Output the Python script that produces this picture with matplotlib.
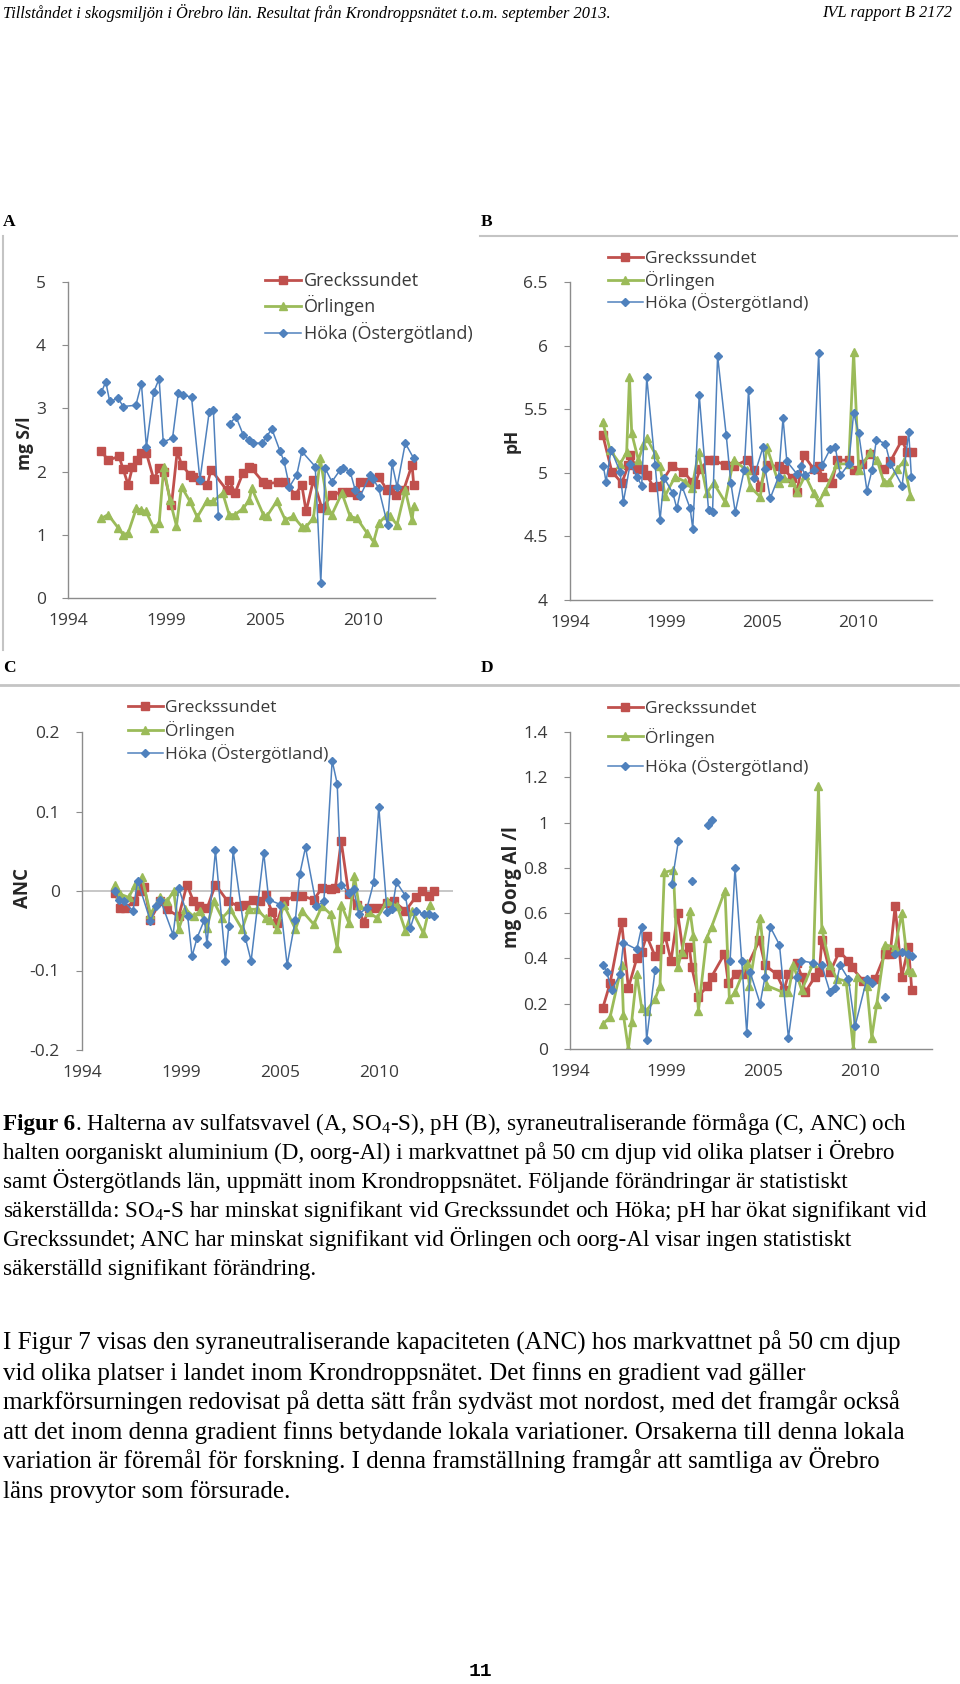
import matplotlib.pyplot as plt
import numpy as np

plt.rcParams['font.family'] = ['Open Sans', 'DejaVu Sans']
plt.rcParams['mathtext.fontset'] = 'custom'
plt.rcParams['mathtext.rm'] = 'Liberation Serif'
plt.rcParams['mathtext.it'] = 'Liberation Serif:italic'
plt.rcParams['mathtext.bf'] = 'Liberation Serif:bold'

W, H = 960, 1684

SERIES = ['Greckssundet', 'Örlingen', 'Höka (Östergötland)']
RED, GREEN, BLUE = '#C0504D', '#9BBB59', '#4F81BD'
XTICK_LABELS = ['1994', '1999', '2005', '2010']

# A: sulfatsvavel, mg S/l
a_grk_x = [1995.87, 1996.24, 1996.85, 1997.08, 1997.36, 1997.60, 1997.86, 1998.10, 1998.38, 1998.79,
           1999.09, 1999.35, 1999.78, 2000.10, 2000.34, 2000.81, 2001.00, 2001.37, 2001.78, 2001.99,
           2002.86, 2003.00, 2003.33, 2003.76, 2004.13, 2004.26, 2004.91, 2005.10, 2005.75, 2006.13,
           2006.69, 2007.06, 2007.30, 2007.71, 2008.18, 2008.74, 2009.30, 2009.76, 2010.14, 2010.32,
           2010.79, 2011.35, 2011.82, 2012.00, 2012.34, 2012.75, 2013.22, 2013.31]
a_grk_y = [2.32, 2.18, 2.24, 2.04, 1.79, 2.07, 2.18, 2.30, 2.29, 1.88,
           2.05, 2.00, 1.47, 2.32, 2.11, 1.95, 1.92, 1.87, 1.79, 2.03,
           1.71, 1.87, 1.66, 1.97, 2.07, 2.05, 1.83, 1.81, 1.83, 1.84,
           1.63, 1.79, 1.37, 1.87, 1.42, 1.63, 1.68, 1.68, 1.63, 1.84,
           1.84, 1.92, 1.71, 1.72, 1.63, 1.71, 2.11, 1.79]
a_orl_x = [1995.87, 1996.24, 1996.80, 1997.08, 1997.36, 1997.82, 1998.10, 1998.35, 1998.79, 1999.09,
           1999.35, 1999.69, 2000.06, 2000.34, 2000.81, 2001.22, 2001.74, 2002.12, 2002.64, 2003.00,
           2003.33, 2003.79, 2004.13, 2004.26, 2004.91, 2005.10, 2005.66, 2006.13, 2006.59, 2007.06,
           2007.30, 2007.71, 2008.09, 2008.55, 2008.74, 2009.30, 2009.76, 2010.14, 2010.70, 2011.07,
           2011.35, 2011.82, 2012.00, 2012.38, 2012.84, 2013.22, 2013.31]
a_orl_y = [1.26, 1.32, 1.11, 1.00, 1.03, 1.42, 1.39, 1.37, 1.11, 1.18,
           2.08, 1.55, 1.14, 1.76, 1.53, 1.28, 1.53, 1.53, 1.66, 1.32,
           1.32, 1.42, 1.55, 1.74, 1.32, 1.29, 1.53, 1.24, 1.29, 1.13,
           1.13, 1.26, 2.21, 1.39, 1.32, 1.66, 1.29, 1.26, 1.03, 0.89,
           1.18, 1.32, 1.29, 1.16, 1.71, 1.24, 1.45]
a_hok_x = [1995.87, 1996.11, 1996.33, 1996.80, 1997.08, 1997.79, 1998.10, 1998.38, 1998.79, 1999.09,
           1999.32, 1999.84, 2000.16, 2000.40, 2000.90, 2001.37, 2001.89, 2002.12, 2002.40, 2002.70,
           2003.05, 2003.38, 2003.79, 2004.13, 2004.35, 2004.82, 2005.10, 2005.38, 2005.85, 2006.07,
           2006.37, 2006.78, 2007.06, 2007.81, 2008.12, 2008.37, 2008.74, 2009.21, 2009.35, 2009.76,
           2010.04, 2010.32, 2010.88, 2011.03, 2011.35, 2011.85, 2012.10, 2012.38, 2012.84, 2013.31]
a_hok_y = [3.26, 3.42, 3.11, 3.16, 3.03, 3.05, 3.39, 2.39, 3.26, 3.47,
           2.47, 2.53, 3.24, 3.21, 3.18, 1.87, 2.95, 2.97, 1.29, np.nan,
           2.76, 2.87, 2.58, 2.50, 2.45, 2.45, 2.55, 2.68, 2.32, 2.16,
           1.76, 1.95, 2.32, 2.08, 0.24, 2.05, 1.84, 2.03, 2.06, 2.00,
           1.71, 1.61, 1.95, 1.89, 1.74, 1.16, 2.13, 1.76, 2.45, 2.21]

# B: pH
b_grk_x = [1995.87, 1996.39, 1996.96, 1997.34, 1997.44, 1997.82, 1998.16, 1998.39, 1998.77, 1999.11,
           1999.82, 2000.49, 2000.97, 2001.16, 2001.44, 2001.92, 2002.21, 2002.87, 2003.35, 2004.11,
           2004.50, 2004.88, 2005.26, 2005.93, 2006.21, 2006.69, 2006.98, 2007.36, 2007.93, 2008.22,
           2008.41, 2008.98, 2009.27, 2009.94, 2010.22, 2010.70, 2011.18, 2011.94, 2012.32, 2012.99,
           2013.27, 2013.56]
b_grk_y = [5.30, 5.01, 4.92, 5.06, 5.14, 5.03, 5.03, 4.98, 4.89, 4.90,
           5.05, 5.01, 4.93, 4.91, 5.03, 5.10, 5.10, 5.06, 5.05, 5.10,
           5.02, 4.89, 5.06, 5.05, 5.03, 4.96, 4.85, 5.14, 5.03, 5.05,
           4.97, 4.92, 5.10, 5.10, 5.02, 5.07, 5.15, 5.03, 5.09, 5.26,
           5.16, 5.16]
b_orl_x = [1995.87, 1996.29, 1996.86, 1997.24, 1997.40, 1997.53, 1997.91, 1998.20, 1998.39, 1998.87,
           1999.15, 1999.44, 2000.01, 2000.58, 2000.97, 2001.35, 2001.82, 2002.21, 2002.87, 2003.35,
           2004.11, 2004.31, 2004.88, 2005.26, 2005.93, 2006.21, 2006.69, 2006.98, 2007.45, 2007.93,
           2008.22, 2008.60, 2009.27, 2009.94, 2010.22, 2010.51, 2011.18, 2011.56, 2011.94, 2012.23,
           2012.71, 2013.08, 2013.47]
b_orl_y = [5.40, 5.18, 5.07, 5.16, 5.75, 5.31, 5.10, 5.22, 5.27, 5.15,
           5.05, 4.82, 4.97, 4.93, 4.88, 5.16, 4.84, 4.92, 4.77, 5.10,
           5.02, 4.89, 4.81, 5.20, 4.92, 4.96, 4.93, 4.85, 4.98, 4.84,
           4.77, 4.86, 5.07, 5.07, 5.95, 5.02, 5.16, 5.10, 4.93, 4.93,
           5.03, 5.09, 4.82]
b_hok_x = [1995.91, 1996.06, 1996.35, 1996.86, 1997.05, 1997.44, 1997.82, 1998.10, 1998.39, 1998.87,
           1999.15, 1999.38, 1999.88, 2000.11, 2000.39, 2000.87, 2001.02, 2001.39, 2001.92, 2002.15,
           2002.44, 2002.93, 2003.20, 2003.45, 2003.96, 2004.21, 2004.50, 2005.03, 2005.16, 2005.45,
           2005.93, 2006.18, 2006.40, 2006.98, 2007.23, 2007.45, 2007.93, 2008.22, 2008.41, 2008.89,
           2009.17, 2009.46, 2009.94, 2010.22, 2010.51, 2010.98, 2011.27, 2011.52, 2012.03, 2012.32,
           2012.99, 2013.37, 2013.52]
b_hok_y = [5.05, 4.93, 5.18, 5.01, 4.77, 5.07, 4.97, 4.90, 5.75, 5.06,
           4.63, 4.96, 4.84, 4.72, 4.90, 4.72, 4.56, 5.61, 4.71, 4.69,
           5.92, 5.30, 4.92, 4.69, 5.02, 5.65, 4.96, 5.20, 5.03, 4.80,
           4.97, 5.43, 5.09, 4.99, 5.05, 4.98, 5.02, 5.94, 5.06, 5.19,
           5.20, 4.98, 5.07, 5.47, 5.31, 4.86, 5.02, 5.26, 5.23, 5.07,
           4.90, 5.32, 4.97]

# C: ANC
c_grk_x = [1995.85, 1996.13, 1996.41, 1996.87, 1997.24, 1997.46, 1997.80, 1998.35, 1998.72, 1999.37,
           1999.83, 2000.17, 2000.48, 2000.94, 2001.41, 2002.09, 2002.70, 2003.07, 2003.50, 2003.91,
           2004.19, 2004.56, 2004.83, 2005.20, 2005.85, 2006.22, 2006.87, 2007.33, 2007.80, 2008.07,
           2008.39, 2008.81, 2009.28, 2009.65, 2009.93, 2010.39, 2010.94, 2011.31, 2011.96, 2012.52,
           2012.89, 2013.26, 2013.54]
c_grk_y = [-0.003, -0.021, -0.022, -0.013, 0.000, 0.005, -0.036, -0.013, -0.023, -0.032,
           0.008, -0.012, -0.019, -0.022, 0.008, -0.013, -0.019, -0.017, -0.011, -0.013,
           -0.005, -0.027, -0.040, -0.013, -0.006, -0.006, -0.011, 0.004, 0.002, 0.004,
           0.063, -0.004, -0.017, -0.040, -0.021, -0.021, -0.015, -0.013, -0.025, -0.008,
           0.000, -0.006, 0.000]
c_orl_x = [1995.85, 1996.13, 1996.59, 1996.96, 1997.33, 1997.80, 1998.35, 1998.72, 1999.09, 1999.37,
           1999.74, 2000.20, 2000.57, 2000.94, 2001.31, 2001.78, 2002.24, 2002.89, 2003.26, 2003.72,
           2004.19, 2004.46, 2004.83, 2005.20, 2005.85, 2006.22, 2006.87, 2007.33, 2007.80, 2008.17,
           2008.39, 2008.81, 2009.13, 2009.37, 2009.93, 2010.39, 2010.94, 2011.50, 2011.96, 2012.33,
           2012.96, 2013.33]
c_orl_y = [0.008, -0.004, -0.008, 0.008, 0.017, -0.029, -0.008, -0.013, 0.000, -0.048,
           -0.023, -0.032, -0.025, -0.046, -0.013, -0.034, -0.023, -0.048, -0.023, -0.023,
           -0.034, -0.036, -0.048, -0.017, -0.048, -0.025, -0.042, -0.019, -0.029, -0.072,
           -0.017, -0.040, 0.019, -0.017, -0.027, -0.034, -0.013, -0.019, -0.050, -0.025,
           -0.053, -0.017]
c_hok_x = [1995.85, 1996.04, 1996.31, 1996.83, 1997.09, 1997.80, 1998.13, 1998.35, 1999.06, 1999.37,
           1999.87, 2000.11, 2000.39, 2000.80, 2000.94, 2001.41, 2001.96, 2002.15, 2002.39, 2003.07,
           2003.39, 2004.09, 2004.37, 2005.02, 2005.39, 2005.85, 2006.09, 2006.41, 2007.02, 2007.43,
           2007.89, 2008.17, 2008.39, 2008.81, 2009.09, 2009.37, 2009.83, 2010.20, 2010.48, 2010.94,
           2011.22, 2011.46, 2011.96, 2012.24, 2012.52, 2012.98, 2013.26, 2013.54]
c_hok_y = [0.000, -0.011, -0.013, -0.025, 0.013, -0.038, -0.019, -0.011, -0.055, 0.004,
           -0.032, -0.082, -0.059, -0.036, -0.067, 0.051, -0.088, -0.044, 0.051, -0.059,
           -0.088, 0.048, -0.011, -0.017, -0.093, -0.036, 0.021, 0.055, -0.019, -0.013,
           0.164, 0.135, 0.008, -0.002, 0.002, -0.029, -0.021, 0.011, 0.106, -0.027,
           -0.023, 0.011, -0.006, -0.046, -0.025, -0.029, -0.029, -0.032]

# D: oorganiskt Al, mg/l
d_grk_x = [1995.86, 1996.28, 1996.94, 1997.32, 1997.80, 1998.08, 1998.36, 1998.84, 1999.12, 1999.41,
           1999.75, 2000.13, 2000.45, 2000.79, 2000.93, 2001.31, 2001.82, 2002.06, 2002.79, 2003.01,
           2003.45, 2003.87, 2004.78, 2005.10, 2005.76, 2006.18, 2006.43, 2006.90, 2007.19, 2007.38,
           2007.95, 2008.19, 2008.33, 2008.80, 2009.33, 2009.84, 2010.03, 2010.70, 2011.36, 2011.93,
           2012.22, 2012.50, 2012.88, 2013.26, 2013.45]
d_grk_y = [0.18, 0.29, 0.56, 0.27, 0.40, 0.43, 0.50, 0.41, 0.44, 0.50,
           0.39, 0.60, 0.42, 0.45, 0.36, 0.23, 0.28, 0.32, 0.42, 0.29,
           0.33, 0.33, 0.48, 0.37, 0.33, 0.26, 0.33, 0.38, 0.32, 0.25,
           0.32, 0.34, 0.48, 0.34, 0.43, 0.39, 0.36, 0.30, 0.31, 0.42,
           0.42, 0.63, 0.32, 0.45, 0.26]
d_orl_x = [1995.86, 1996.28, 1996.94, 1997.04, 1997.32, 1997.51, 1997.80, 1998.08, 1998.36, 1998.84,
           1999.12, 1999.37, 1999.88, 2000.13, 2000.36, 2000.83, 2001.02, 2001.31, 2001.78, 2002.06,
           2002.82, 2003.07, 2003.39, 2004.06, 2004.21, 2004.82, 2005.20, 2006.14, 2006.43, 2006.71,
           2007.19, 2007.85, 2008.14, 2008.33, 2008.80, 2009.18, 2009.71, 2010.13, 2010.32, 2010.89,
           2011.17, 2011.46, 2011.93, 2012.50, 2012.88, 2013.26, 2013.45]
d_orl_y = [0.11, 0.14, 0.37, 0.15, 0.00, 0.12, 0.33, 0.18, 0.17, 0.22,
           0.28, 0.78, 0.79, 0.36, 0.43, 0.61, 0.50, 0.17, 0.49, 0.54,
           0.70, 0.22, 0.25, 0.38, 0.28, 0.58, 0.28, 0.25, 0.25, 0.37,
           0.26, 0.38, 1.16, 0.53, 0.37, 0.31, 0.30, 0.00, 0.32, 0.28,
           0.05, 0.20, 0.46, 0.45, 0.60, 0.35, 0.34]
d_hok_x = [1995.90, 1996.09, 1996.37, 1996.85, 1997.04, 1997.80, 1998.08, 1998.36, 1998.84, 1999.30,
           1999.79, 2000.17, 2000.55, 2000.93, 2001.40, 2001.88, 2002.10, 2002.60, 2003.11, 2003.39,
           2003.77, 2004.06, 2004.25, 2004.82, 2005.10, 2005.39, 2005.92, 2006.43, 2006.90, 2007.13,
           2007.85, 2008.33, 2008.80, 2009.09, 2009.37, 2009.84, 2010.22, 2010.89, 2011.17, 2011.60,
           2011.93, 2012.20, 2012.50, 2012.88, 2013.26, 2013.45]
d_hok_y = [0.37, 0.34, 0.26, 0.33, 0.47, 0.44, 0.54, 0.04, 0.35, np.nan,
           0.73, 0.92, np.nan, 0.74, np.nan, 0.99, 1.01, np.nan, 0.39, 0.80,
           0.39, 0.07, 0.34, 0.20, 0.32, 0.54, 0.46, 0.05, 0.32, 0.39,
           0.38, 0.37, 0.25, 0.27, 0.37, 0.31, 0.10, 0.31, 0.29, np.nan,
           0.23, np.nan, 0.42, 0.43, 0.42, 0.41]


def rect(l, t, r, b):
  return [l / W, 1 - b / H, (r - l) / W, (b - t) / H]


def fx(x):
  return x / W


def fy(y):
  return 1 - y / H


def make_panel(fig, box, data, ylim, yticks, ylabels, ylab, ylab_xy, ylab_size,
               leg_xy, leg_space, leg_fs, fs, xright, zero_line=False):
  ax = fig.add_axes(rect(*box))
  styles = [dict(color=RED, marker='s', ms=5.2, lw=2.0),
            dict(color=GREEN, marker='^', ms=5.8, lw=2.0),
            dict(color=BLUE, marker='D', ms=4.2, lw=1.1)]
  for (x, y), name, st in zip(data, SERIES, styles):
    ax.plot(x, y, label=name, **st)
  ax.set_xlim(1994, xright)
  ax.set_ylim(*ylim)
  ax.set_xticks([1994 + 5.5 * k for k in range(4)], XTICK_LABELS)
  ax.set_yticks(yticks, ylabels)
  for s in ['top', 'right']:
    ax.spines[s].set_visible(False)
  for s in ['left', 'bottom']:
    ax.spines[s].set_color('#8c8c8c')
    ax.spines[s].set_linewidth(1.0)
  if zero_line:
    ax.spines['bottom'].set_visible(False)
    ax.axhline(0, color='#bdbdbd', lw=1.2, zorder=0)
  ax.tick_params(axis='x', length=0, pad=fs * 0.85, labelsize=fs, labelcolor='#3a3a3a')
  ax.tick_params(axis='y', length=4, color='#8c8c8c', pad=fs * 0.95, labelsize=fs, labelcolor='#3a3a3a')
  fig.text(fx(ylab_xy[0]), fy(ylab_xy[1]), ylab, rotation=90, ha='center', va='center',
           fontsize=ylab_size, fontweight='bold', color='#262626')
  leg = ax.legend(loc='upper left', bbox_to_anchor=(fx(leg_xy[0]), fy(leg_xy[1])),
                  bbox_transform=fig.transFigure, frameon=False, fontsize=leg_fs,
                  handlelength=2.0, handletextpad=0.15, labelspacing=leg_space,
                  borderpad=0, borderaxespad=0)
  for t in leg.get_texts():
    t.set_color('#3a3a3a')
  return ax


fig = plt.figure(figsize=(W / 100, H / 100), dpi=100)

make_panel(fig, (68, 282, 435, 598),
           [(a_grk_x, a_grk_y), (a_orl_x, a_orl_y), (a_hok_x, a_hok_y)],
           (0, 5), range(6), [str(v) for v in range(6)], 'mg S/l', (25, 443), 12.5,
           (265, 272), 0.3, 13, 12.5, 2014.5)
make_panel(fig, (570, 282, 932, 600),
           [(b_grk_x, b_grk_y), (b_orl_x, b_orl_y), (b_hok_x, b_hok_y)],
           (4, 6.5), [4, 4.5, 5, 5.5, 6, 6.5], ['4', '4.5', '5', '5.5', '6', '6.5'],
           'pH', (512, 441), 12.5, (608, 251), 0.2, 12.5, 12.5, 2014.7)
make_panel(fig, (82, 732, 453, 1050),
           [(c_grk_x, c_grk_y), (c_orl_x, c_orl_y), (c_hok_x, c_hok_y)],
           (-0.2, 0.2), [-0.2, -0.1, 0, 0.1, 0.2], ['-0.2', '-0.1', '0', '0.1', '0.2'],
           'ANC', (23, 888), 13.5, (128, 700), 0.27, 12.5, 12.5, 2014.6, zero_line=True)
make_panel(fig, (570, 732, 932, 1049),
           [(d_grk_x, d_grk_y), (d_orl_x, d_orl_y), (d_hok_x, d_hok_y)],
           (0, 1.4), [0, 0.2, 0.4, 0.6, 0.8, 1, 1.2, 1.4],
           ['0', '0.2', '0.4', '0.6', '0.8', '1', '1.2', '1.4'],
           'mg Oorg Al /l', (512, 887), 13.5, (608, 701), 0.6, 12.5, 12.5, 2014.6)

# chart frame edges visible on the page
border = '#c4c4c4'
fig.add_artist(plt.Line2D([fx(3), fx(3)], [fy(236), fy(650)], color=border, lw=1.5))
fig.add_artist(plt.Line2D([fx(480), fx(957)], [fy(236), fy(236)], color=border, lw=1.5))
fig.add_artist(plt.Line2D([fx(0), fx(958)], [fy(685), fy(685)], color=border, lw=2))

# page text
serif = ['Liberation Serif', 'DejaVu Serif']
fig.text(fx(3), fy(13), 'Tillståndet i skogsmiljön i Örebro län. Resultat från Krondroppsnätet t.o.m. september 2013.',
         family=serif, style='italic', fontsize=11.8, va='center', ha='left')
fig.text(fx(952), fy(13), 'IVL rapport B 2172', family=serif, style='italic', fontsize=11.8,
         va='center', ha='right')
for lab, x, y in [('A', 3, 222), ('B', 481, 222), ('C', 3, 668), ('D', 481, 668)]:
  fig.text(fx(x), fy(y), lab, family=serif, fontweight='bold', fontsize=12.5, va='center', ha='left')

cap_fs = 16.7
para_fs = 18.0
caption = [
    '. Halterna av sulfatsvavel (A, SO$_\\mathrm{4}$-S), pH (B), syraneutraliserande förmåga (C, ANC) och',
    'halten oorganiskt aluminium (D, oorg-Al) i markvattnet på 50 cm djup vid olika platser i Örebro',
    'samt Östergötlands län, uppmätt inom Krondroppsnätet. Följande förändringar är statistiskt',
    'säkerställda: SO$_\\mathrm{4}$-S har minskat signifikant vid Greckssundet och Höka; pH har ökat signifikant vid',
    'Greckssundet; ANC har minskat signifikant vid Örlingen och oorg-Al visar ingen statistiskt',
    'säkerställd signifikant förändring.',
]
para = [
    'I Figur 7 visas den syraneutraliserande kapaciteten (ANC) hos markvattnet på 50 cm djup',
    'vid olika platser i landet inom Krondroppsnätet. Det finns en gradient vad gäller',
    'markförsurningen redovisat på detta sätt från sydväst mot nordost, med det framgår också',
    'att det inom denna gradient finns betydande lokala variationer. Orsakerna till denna lokala',
    'variation är föremål för forskning. I denna framställning framgår att samtliga av Örebro',
    'läns provytor som försurade.',
]
t0 = fig.text(fx(3), fy(1130), 'Figur 6', family=serif, fontweight='bold', fontsize=cap_fs,
              va='baseline', ha='left')
bb = t0.get_window_extent(renderer=fig.canvas.get_renderer())
fig.text(bb.x1 / W, fy(1130), caption[0], family=serif, fontsize=cap_fs, va='baseline', ha='left')
for i, line in enumerate(caption[1:], start=1):
  fig.text(fx(3), fy(1130 + 29 * i), line, family=serif, fontsize=cap_fs, va='baseline', ha='left')
for i, line in enumerate(para):
  fig.text(fx(3), fy(1350 + 29.6 * i), line, family=serif, fontsize=para_fs, va='baseline', ha='left')

fig.text(0.5, fy(1672), '11', family=['Liberation Mono', 'DejaVu Sans Mono'], fontsize=14,
         fontweight='bold', ha='center', va='center')

fig.savefig('out.png', dpi=100)
